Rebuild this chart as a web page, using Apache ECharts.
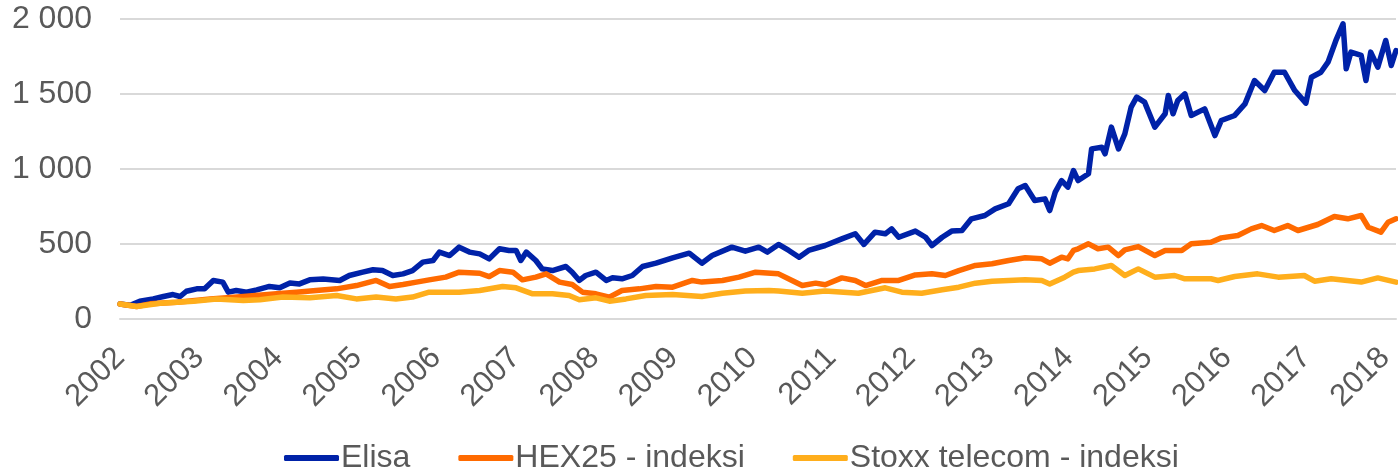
<!DOCTYPE html>
<html>
<head>
<meta charset="utf-8">
<script src="https://cdn.jsdelivr.net/npm/echarts@6/dist/echarts.min.js"></script>
<style>
html,body{margin:0;padding:0;background:#fff;}
#chart{width:1398px;height:472px;}
</style>
</head>
<body>
<div id="chart"></div>
<script>
// Series names
const seriesNames = ['Elisa', 'HEX25 - indeksi', 'Stoxx telecom - indeksi'];

// Elisa (decimal year, index value)
const elisaYears = [2002.00,2002.13,2002.25,2002.42,2002.55,2002.67,2002.76,2002.84,2002.97,2003.07,2003.18,2003.30,2003.37,2003.47,2003.60,2003.73,2003.89,2004.02,2004.15,2004.27,2004.40,2004.57,2004.78,2004.90,2005.07,2005.20,2005.32,2005.45,2005.58,2005.70,2005.83,2005.96,2006.04,2006.17,2006.29,2006.42,2006.55,2006.67,2006.80,2006.92,2007.01,2007.07,2007.14,2007.26,2007.34,2007.47,2007.64,2007.72,2007.81,2007.89,2008.02,2008.15,2008.23,2008.35,2008.48,2008.61,2008.78,2008.99,2009.20,2009.36,2009.49,2009.74,2009.91,2010.08,2010.19,2010.33,2010.46,2010.59,2010.71,2010.92,2011.13,2011.30,2011.41,2011.55,2011.68,2011.76,2011.85,2012.06,2012.19,2012.27,2012.40,2012.52,2012.65,2012.77,2012.94,2013.07,2013.24,2013.36,2013.45,2013.57,2013.70,2013.76,2013.83,2013.91,2013.99,2014.06,2014.12,2014.25,2014.29,2014.42,2014.46,2014.54,2014.63,2014.71,2014.79,2014.86,2014.96,2015.09,2015.22,2015.26,2015.32,2015.38,2015.47,2015.55,2015.72,2015.85,2015.93,2016.10,2016.23,2016.35,2016.48,2016.60,2016.73,2016.86,2017.00,2017.07,2017.19,2017.28,2017.38,2017.47,2017.51,2017.57,2017.70,2017.76,2017.82,2017.91,2018.01,2018.08,2018.14];
const elisaValues = [100,92,118,134,150,163,150,185,201,201,257,246,179,190,179,194,217,208,240,234,261,266,257,290,312,328,323,290,301,323,379,390,446,423,479,446,434,401,468,457,457,390,446,390,334,323,350,312,257,290,312,257,275,268,290,350,372,408,439,372,423,479,452,479,446,497,457,412,457,490,534,568,497,579,568,601,545,586,545,490,545,586,590,668,690,734,768,868,890,790,801,723,846,923,879,990,923,968,1134,1145,1101,1279,1134,1234,1412,1479,1446,1279,1368,1490,1368,1457,1501,1357,1401,1223,1323,1357,1434,1590,1523,1645,1645,1523,1439,1612,1645,1712,1857,1968,1668,1779,1757,1590,1779,1679,1857,1690,1790];

// HEX25 - indeksi
const hexYears = [2002.00,2002.21,2002.38,2002.72,2003.14,2003.56,2003.98,2004.23,2004.48,2004.74,2004.99,2005.24,2005.41,2005.58,2005.75,2005.91,2006.12,2006.29,2006.55,2006.67,2006.80,2006.97,2007.09,2007.26,2007.39,2007.56,2007.72,2007.85,2008.02,2008.19,2008.35,2008.57,2008.78,2008.99,2009.24,2009.36,2009.62,2009.83,2010.04,2010.33,2010.50,2010.63,2010.80,2010.92,2011.13,2011.30,2011.43,2011.64,2011.85,2012.06,2012.27,2012.44,2012.61,2012.82,2013.03,2013.24,2013.45,2013.66,2013.76,2013.91,2013.99,2014.06,2014.12,2014.25,2014.37,2014.50,2014.63,2014.71,2014.88,2015.09,2015.22,2015.43,2015.55,2015.80,2015.93,2016.14,2016.31,2016.44,2016.60,2016.77,2016.90,2017.15,2017.36,2017.53,2017.70,2017.79,2017.95,2018.04,2018.14];
const hexValues = [100,83,101,112,134,150,168,179,190,201,223,257,217,230,246,261,279,312,305,283,323,312,261,279,301,246,230,179,168,146,190,201,217,212,257,246,257,279,312,301,257,223,239,228,274,257,223,257,257,294,301,290,323,357,368,390,408,401,372,412,401,457,468,501,468,479,423,461,483,423,457,457,501,512,541,557,601,623,590,623,590,630,683,668,690,612,579,645,668];

// Stoxx telecom - indeksi
const stoxxYears = [2002.00,2002.21,2002.51,2002.93,2003.22,2003.56,2003.77,2004.06,2004.40,2004.74,2004.99,2005.24,2005.49,2005.70,2005.91,2006.12,2006.29,2006.55,2006.84,2007.01,2007.22,2007.47,2007.68,2007.81,2008.02,2008.19,2008.40,2008.65,2008.99,2009.36,2009.62,2009.91,2010.21,2010.33,2010.63,2010.92,2011.34,2011.68,2011.89,2012.14,2012.40,2012.61,2012.82,2013.03,2013.24,2013.45,2013.66,2013.76,2013.95,2014.06,2014.12,2014.33,2014.54,2014.71,2014.88,2015.09,2015.34,2015.47,2015.80,2015.89,2016.10,2016.39,2016.65,2016.98,2017.11,2017.32,2017.70,2017.91,2018.14];
const stoxxValues = [100,83,105,119,134,123,128,146,141,157,134,146,134,146,179,179,179,190,217,208,168,168,157,128,141,119,134,157,163,150,172,186,190,186,172,186,172,208,179,172,195,212,239,252,257,261,257,234,279,312,323,334,357,290,334,279,290,268,268,257,283,301,279,290,252,268,246,274,246];

// Axis ticks
const xMin = 2002, xMax = 2018.14, xStep = 1;
const yMin = 0, yMax = 2000, yStep = 500;

const colors = ['#0022A8', '#FF6A00', '#FFAE1C'];

function pairs(xs, ys) { return xs.map((x, i) => [x, ys[i]]); }
function fmtThousands(v) {
  const s = String(Math.round(v));
  return s.replace(/\B(?=(\d{3})+(?!\d))/g, ' ');
}

const chart = echarts.init(document.getElementById('chart'), null, {renderer: 'canvas'});
const font = 'Liberation Sans, Arial, sans-serif';
chart.setOption({
  animation: false,
  backgroundColor: '#ffffff',
  color: colors,
  grid: {left: 120, right: 0, top: 19, bottom: 153, containLabel: false},
  legend: {
    top: 442,
    left: 284,
    padding: 0,
    itemWidth: 55,
    itemHeight: 6,
    itemGap: 48,
    icon: 'roundRect',
    textStyle: {fontFamily: font, fontSize: 32, lineHeight: 32, color: '#595959', padding: [0, 0, 0, -3]},
    data: seriesNames
  },
  xAxis: {
    type: 'value',
    min: xMin, max: xMax, interval: xStep,
    axisLine: {show: true, lineStyle: {color: '#d9d9d9', width: 2}},
    axisTick: {show: false},
    splitLine: {show: false},
    axisLabel: {
      rotate: 45, margin: 34,
      fontFamily: font, fontSize: 31, color: '#595959',
      showMaxLabel: false,
      formatter: v => (Math.abs(v - Math.round(v)) < 1e-6 ? String(Math.round(v)) : '')
    }
  },
  yAxis: {
    type: 'value',
    min: yMin, max: yMax, interval: yStep,
    axisLine: {show: false},
    axisTick: {show: false},
    splitLine: {lineStyle: {color: '#d9d9d9', width: 2}},
    axisLabel: {margin: 28, fontFamily: font, fontSize: 32, color: '#595959', formatter: fmtThousands}
  },
  series: [
    {name: seriesNames[0], type: 'line', data: pairs(elisaYears, elisaValues), showSymbol: false, symbol: 'none', lineStyle: {width: 5.5, color: colors[0], cap: 'round', join: 'round'}},
    {name: seriesNames[1], type: 'line', data: pairs(hexYears, hexValues), showSymbol: false, symbol: 'none', lineStyle: {width: 5.5, color: colors[1], cap: 'round', join: 'round'}},
    {name: seriesNames[2], type: 'line', data: pairs(stoxxYears, stoxxValues), showSymbol: false, symbol: 'none', lineStyle: {width: 5.5, color: colors[2], cap: 'round', join: 'round'}}
  ]
});
</script>
</body>
</html>
